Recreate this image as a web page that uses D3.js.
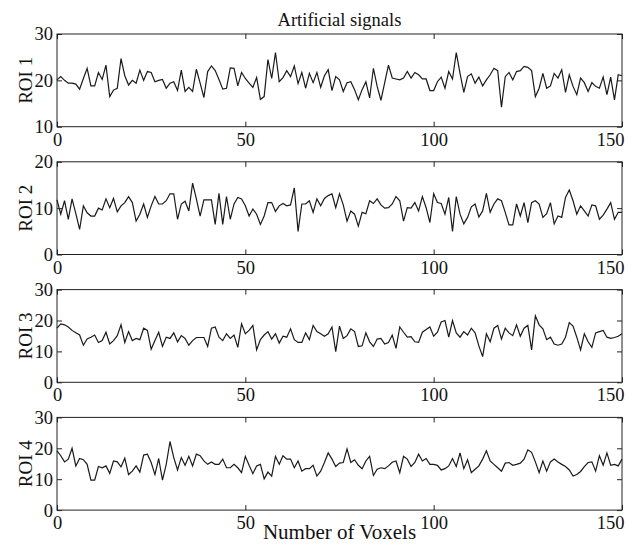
<!DOCTYPE html>
<html>
<head>
<meta charset="utf-8">
<script src="https://cdn.jsdelivr.net/npm/d3@7"></script>
<style>
body { margin: 0; background: #fff; overflow: hidden; }
svg { display: block; }
svg text { font-family: "Liberation Serif", "Times New Roman", serif; fill: #111; }
</style>
</head>
<body>
<svg id="chart"></svg>
<script>
// values, one per voxel (0..150)
const roi1 = [
  20.1, 20.8, 20, 19.4, 19.4, 19.2, 18.1, 20.4, 22.6, 18.8,
  18.8, 21.7, 20.2, 23.3, 16.5, 17.9, 18.3, 24.7, 21, 19,
  20, 19.4, 22.2, 20, 21.9, 21.7, 19.7, 20, 20.2, 18.3,
  19.4, 19.7, 17.8, 22.2, 17.6, 18.5, 17.6, 22.4, 19.4, 16.3,
  21.9, 23.1, 22.1, 20.2, 18.1, 18.3, 22.7, 22.6, 18.8, 21.7,
  20.4, 19.4, 18.5, 20.6, 15.9, 16.5, 24.5, 20.4, 26, 19.7,
  20.6, 22.1, 20.8, 23.1, 19.3, 21.7, 18.3, 21.5, 19.5, 21.7,
  18.5, 21, 22.3, 17.8, 20.8, 20.1, 17.6, 19.5, 19.7, 18,
  15.8, 18, 19.7, 16.2, 22.6, 18.7, 15.7, 19.5, 23.3, 20.5,
  20.3, 20.1, 20.5, 21.9, 20.5, 21.7, 21.2, 20.3, 20.3, 17.8,
  17.8, 19.7, 20.7, 18.3, 21.9, 20.3, 26, 21.5, 17.4, 20.8,
  21.4, 19.4, 20.7, 18.8, 20.1, 21.2, 22.6, 22.1, 14.2, 20.8,
  21.7, 20.1, 21.9, 22.1, 23, 22.8, 22.1, 16.5, 18.3, 21.5,
  18.3, 18.8, 21.5, 20.5, 22.3, 17.4, 21.2, 18.7, 16.9, 20.5,
  19.5, 17.6, 19.5, 18.7, 18.3, 20.7, 16.9, 20.7, 15.8, 21.2,
  21
]
const roi2 = [
  11.8, 8.7, 11.6, 7.6, 12, 8.8, 5.4, 10.5, 9, 8.3,
  8.3, 10, 9.6, 12, 10.1, 12.1, 9.2, 10.5, 11.2, 12.5,
  11.2, 7.2, 8.7, 10.9, 8, 10.5, 12.5, 10.9, 10.9, 11.6,
  13.1, 13.1, 7.6, 10.9, 11.5, 9.4, 15.4, 12, 8.3, 11.8,
  11.8, 11.8, 6.5, 13.2, 6.5, 12.5, 7.6, 10.9, 12.3, 12,
  10.5, 8.3, 9.8, 8.7, 6.5, 8.3, 11.2, 11.2, 9.3, 10.5,
  11, 10.5, 10.7, 14.4, 5, 10.9, 10.9, 11.6, 9.1, 12,
  10.5, 12.1, 12.7, 13.1, 10.1, 13.1, 10.7, 7.2, 9.4, 8.7,
  6.1, 9.1, 8.8, 11.6, 11, 12, 10.7, 10, 10.1, 10.9,
  12.5, 11.6, 7.2, 10.1, 10, 11.2, 9.4, 12.5, 10.1, 6.9,
  13.1, 11.2, 11, 8.7, 12.3, 5, 12.5, 8.7, 6.6, 8,
  10.3, 10.9, 8.1, 9.4, 13.2, 9.1, 10.9, 12, 11.6, 9.1,
  6.4, 6.4, 10.9, 8.3, 11.2, 6.9, 11.2, 11.6, 10.9, 8,
  8.8, 11.2, 6.6, 8.3, 8, 12.3, 13.9, 11.6, 8.7, 10.5,
  9.4, 8.3, 10.7, 10.5, 7.6, 8.5, 9.8, 11.2, 7.6, 9.1,
  9.1
]
const roi3 = [
  17.5, 18.9, 18.6, 17.9, 16.8, 16, 15.3, 12, 14, 14.6,
  15.3, 12.9, 13.5, 16.2, 12.4, 13.5, 15.1, 18.6, 12.9, 16.4,
  13.5, 14.2, 13.8, 17.5, 16.8, 10.7, 13.5, 16.2, 11.6, 14.6,
  14.2, 16, 13.1, 15.1, 14.2, 12, 13.5, 14.5, 14.5, 14.5,
  11.6, 17.5, 17.9, 14.6, 13.5, 15.7, 14.2, 15.3, 11.3, 18.9,
  15.7, 16.8, 18.4, 10.5, 13.8, 15.3, 16.4, 14, 15.7, 12.7,
  14.9, 14.6, 17.3, 13.8, 12.9, 12.9, 16, 13.8, 18.4, 16.4,
  15.7, 14.9, 15.7, 17.9, 9.9, 18.2, 14.2, 15.1, 17.3, 16.4,
  11.6, 11.8, 16, 13.1, 11.6, 14, 14.2, 12.4, 12.9, 15.3,
  11, 17.9, 16.2, 14.6, 14.8, 13.1, 12.9, 16.2, 17.1, 17.9,
  14.9, 16.2, 19.5, 20, 14.6, 20, 16, 14.6, 16.4, 15.3,
  17.5, 16, 11.8, 8.3, 15.7, 13.1, 17.5, 18.4, 14, 17.5,
  16, 15.1, 18.6, 14.9, 17.5, 18.4, 10.5, 21.5, 18.6, 17.3,
  13.8, 14.6, 12.4, 12, 12.4, 14.6, 19.3, 18.2, 14.6, 10.5,
  15.7, 13.1, 11.3, 16, 16.4, 16.8, 14.6, 14.2, 14.5, 14.9,
  15.7
]
const roi4 = [
  19.2, 17.6, 15.6, 16.5, 20, 14.3, 16.7, 16.3, 14.8, 9.7,
  9.7, 14.1, 13.7, 14.3, 11.9, 15.9, 15.6, 14, 16.8, 11.5,
  12.6, 14.3, 12.3, 17.8, 18.1, 15.4, 11.5, 16.7, 9.7, 14.8,
  22.2, 17, 13, 17, 14.5, 17.4, 14.3, 18.1, 17.6, 15.9,
  14.8, 15.6, 14.8, 14.8, 16.5, 13.7, 13.7, 14.8, 13.7, 12.1,
  17.4, 14.5, 11.8, 14.3, 14.8, 10.1, 12.3, 11, 17.4, 14.8,
  17.6, 16.5, 16.5, 13.7, 15.9, 12.6, 13.4, 13.4, 14.5, 11,
  12.6, 15.4, 18.5, 16.5, 14.1, 15.2, 15.4, 19.8, 15.4, 16.3,
  14.5, 13.4, 15.9, 17.4, 11.2, 13.2, 13.7, 13.4, 14.3, 15.5,
  15.9, 12.1, 17.4, 16.5, 14.1, 15.4, 18.1, 15.9, 16.7, 14.8,
  14.8, 14.5, 13, 13.4, 14.3, 16.7, 14.1, 18.5, 13.4, 16.3,
  12.1, 13.2, 14.3, 16.5, 19.2, 15.9, 14.8, 13.7, 12.6, 15.2,
  15.4, 14.5, 14.8, 15.2, 16.5, 19.5, 18.7, 15.6, 12.1, 15.9,
  12.6, 15.6, 16.5, 15.6, 14.8, 14.1, 13, 11, 11.5, 12.5,
  14.1, 15.4, 15.6, 12.6, 17.6, 14.5, 18.5, 14.5, 14.8, 14.3,
  16.5
]

const panelNames = ['ROI 1', 'ROI 2', 'ROI 3', 'ROI 4']
const yDomains = [[10, 30], [0, 20], [0, 30], [0, 30]]
const yTicks = [[10, 20, 30], [0, 10, 20], [0, 10, 20, 30], [0, 10, 20, 30]]
const xTicks = [0, 50, 100, 150]
const titleText = 'Artificial signals'
const xLabelText = 'Number of Voxels'

const width = 632
const height = 545
const margin = { left: 57, right: 10, top: 34 }
const panelH = 92.7
const panelStep = 127.8
const innerWidth = width - margin.left - margin.right

const svg = d3.select('#chart')
    .attr('width', width)
    .attr('height', height)

const xScale = d3.scaleLinear()
    .domain([0, 150])
    .range([0, innerWidth])

const series = [roi1, roi2, roi3, roi4]

series.forEach((values, i) => {
    const g = svg.append('g')
        .attr('transform', `translate(${margin.left},${margin.top + i * panelStep})`)

    const yScale = d3.scaleLinear()
        .domain(yDomains[i])
        .range([panelH, 0])

    // matlab style: ticks pointing inwards on every side
    const bottom = g.append('g')
        .attr('transform', `translate(0,${panelH})`)
        .call(d3.axisBottom(xScale).tickValues(xTicks).tickSizeInner(-5).tickSizeOuter(0).tickPadding(6))
    g.append('g')
        .call(d3.axisTop(xScale).tickValues(xTicks).tickSizeInner(-5).tickSizeOuter(0).tickFormat(''))
    g.append('g')
        .call(d3.axisLeft(yScale).tickValues(yTicks[i]).tickSizeInner(-5).tickSizeOuter(0).tickPadding(4))
    g.append('g')
        .attr('transform', `translate(${innerWidth},0)`)
        .call(d3.axisRight(yScale).tickValues(yTicks[i]).tickSizeInner(-5).tickSizeOuter(0).tickFormat(''))

    g.selectAll('.domain').remove()
    g.selectAll('.tick line').attr('stroke', '#222')
    g.selectAll('.tick text')
        .style('font-size', '18.5px')
        .attr('fill', '#111')

    // last label pulled in so it stays inside the window
    bottom.selectAll('.tick text')
        .filter(d => d === 150)
        .attr('text-anchor', 'end')
        .attr('dx', 2)

    g.append('rect')
        .attr('width', innerWidth)
        .attr('height', panelH)
        .attr('fill', 'none')
        .attr('stroke', '#222')
        .attr('stroke-width', 1)

    const line = d3.line()
        .x((d, j) => xScale(j))
        .y(d => yScale(d))

    g.append('path')
        .datum(values)
        .attr('fill', 'none')
        .attr('stroke', '#1a1a1a')
        .attr('stroke-width', 1.2)
        .attr('d', line)

    svg.append('text')
        .attr('transform', `translate(32,${margin.top + i * panelStep + panelH / 2}) rotate(-90)`)
        .attr('text-anchor', 'middle')
        .style('font-size', '19px')
        .text(panelNames[i])
})

svg.append('text')
    .attr('x', margin.left + innerWidth / 2)
    .attr('y', 26)
    .attr('text-anchor', 'middle')
    .style('font-size', '18.5px')
    .text(titleText)

svg.append('text')
    .attr('x', margin.left + innerWidth / 2)
    .attr('y', 539)
    .attr('text-anchor', 'middle')
    .style('font-size', '21px')
    .text(xLabelText)
</script>
</body>
</html>
